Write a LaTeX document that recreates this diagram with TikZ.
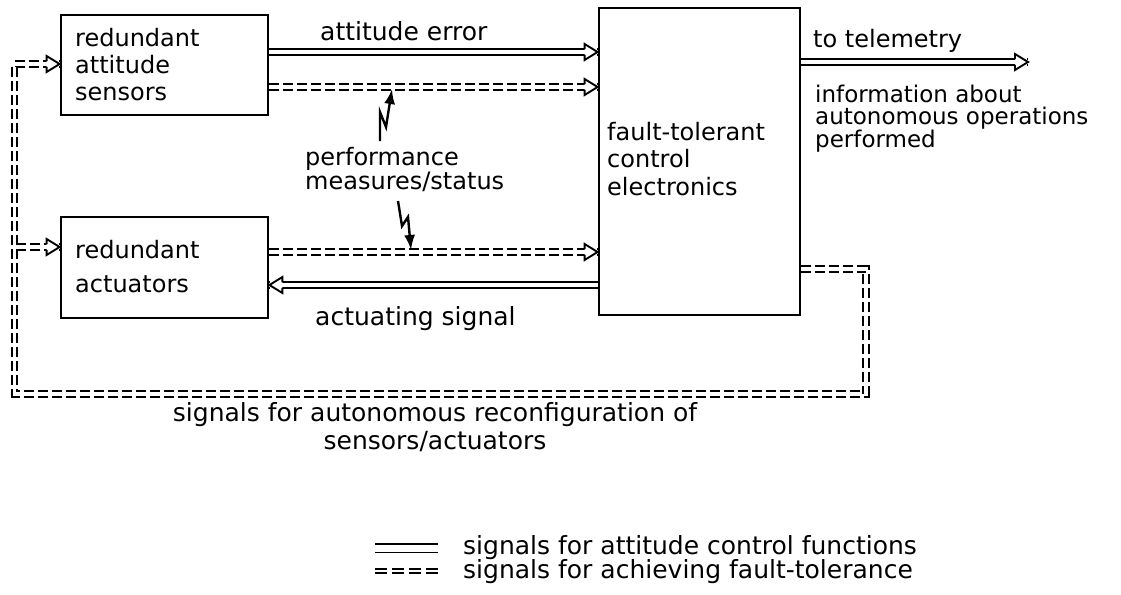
\documentclass[tikz,border=0pt]{standalone}
\usepackage{fontspec}
\setmainfont{DejaVu Sans}
\usetikzlibrary{arrows.meta,decorations.markings}
\tikzset{
  blk/.style={draw, line width=2.8pt, inner sep=0pt},
  lbl/.style={inner sep=0pt, anchor=north west, align=left},
  sig/.style={double, double distance=3.8pt, line width=1.9pt},
  fts/.style={sig, dash pattern=on 10pt off 4pt},
  tipo/.style={postaction={decorate, decoration={markings, mark=at position 1 with {
      \fill[white] (-13pt,-4.8pt) rectangle (-0.9pt,4.8pt);
      \filldraw[solid, fill=white, line width=1.9pt, line join=miter]
        (-13pt,-2.85pt) -- (-13pt,-8pt) -- (0pt,0pt) -- (-13pt,8pt) -- (-13pt,2.85pt);}}}},
  bolt/.style={line width=2.4pt, line join=miter, -{Latex[length=15pt,width=11pt]}},
}
\begin{document}
\begin{tikzpicture}[x=1pt,y=-1pt]
\useasboundingbox (0,0) rectangle (1121,594);
% blocks
\node[blk, minimum width=207pt, minimum height=100pt] (sens) at (164.5,65) {};
\node[blk, minimum width=207pt, minimum height=101pt] (act) at (164.5,267.5) {};
\node[blk, minimum width=201pt, minimum height=307pt] (ctrl) at (699.5,161.5) {};
% block texts
\node[lbl, font=\fontsize{24}{27}\selectfont] (sensT) at (75,28) {redundant\\attitude\\sensors};
\node[lbl, font=\fontsize{24}{34}\selectfont] (actT) at (75,240) {redundant\\actuators};
\node[lbl, font=\fontsize{24}{27.5}\selectfont] (ctrlT) at (607,122) {fault-tolerant\\control\\electronics};
% labels
\node[lbl, font=\fontsize{25}{27}\selectfont] (aeT) at (320,21) {attitude error};
\node[lbl, font=\fontsize{24}{24}\selectfont] (perfT) at (305,147) {performance\\measures/status};
\node[lbl, font=\fontsize{25}{27}\selectfont] (asT) at (315,306) {actuating signal};
\node[lbl, font=\fontsize{24}{27}\selectfont] (telT) at (813,29) {to telemetry};
\node[lbl, font=\fontsize{23}{21.5}\selectfont] (infT) at (815,85) {information about\\autonomous operations\\performed};
\node[inner sep=0pt, anchor=north, align=center, font=\fontsize{25}{28}\selectfont] (recT) at (435,402) {signals for autonomous reconfiguration of\\sensors/actuators};
\node[lbl, font=\fontsize{25}{25}\selectfont] (lg1T) at (463,535) {signals for attitude control functions};
\node[lbl, font=\fontsize{25}{25}\selectfont] (lg2T) at (463,559) {signals for achieving fault-tolerance};
% helper heights
\coordinate (yAE) at (0,52);
\coordinate (yP1) at (0,87);
\coordinate (yP2) at (0,252);
\coordinate (yAS) at (0,285);
\coordinate (yTE) at (0,62);
\coordinate (tEnd) at (1028,62);
% connectors
\draw[sig, tipo] (sens.east |- yAE) -- (ctrl.west |- yAE);
\draw[fts, tipo] (sens.east |- yP1) -- (ctrl.west |- yP1);
\draw[fts, tipo] (act.east |- yP2) -- (ctrl.west |- yP2);
\draw[sig, tipo] (ctrl.west |- yAS) -- (act.east |- yAS);
\draw[sig, tipo] (ctrl.east |- yTE) -- (tEnd);
% feedback loop
\coordinate (L1) at (866,269);
\coordinate (L2) at (866,394);
\coordinate (L3) at (14.5,394);
\coordinate (L4) at (14.5,64);
\coordinate (Lb) at (16.3,247);
\draw[fts, tipo] (ctrl.east |- L1) -- (L1) -- (L2) -- (L3) -- (L4) -- (sens.west |- L4);
\draw[fts, tipo] (Lb) -- (act.west |- Lb);
% lightning arrows
\coordinate (b1) at (380,112);
\coordinate (b2) at (386,127);
\coordinate (b1t) at (392,89);
\draw[bolt] (380,141) coordinate (b1s) -- (b1) -- (b2) -- (b1t);
\coordinate (c1) at (402,226);
\coordinate (c2) at (408,217);
\coordinate (c1t) at (411,250);
\draw[bolt] (398,201) coordinate (c1s) -- (c1) -- (c2) -- (c1t);
% legend
\coordinate (lga) at (375,548);
\coordinate (lgb) at (438,548);
\coordinate (lgc) at (375,571);
\coordinate (lgd) at (438,571);
\draw[double, double distance=7pt, line width=1.6pt] (lga) -- (lgb);
\draw[double, line width=1.6pt, double distance=2.5pt, dash pattern=on 12pt off 5pt] (lgc) -- (lgd);
\end{tikzpicture}
\end{document}
